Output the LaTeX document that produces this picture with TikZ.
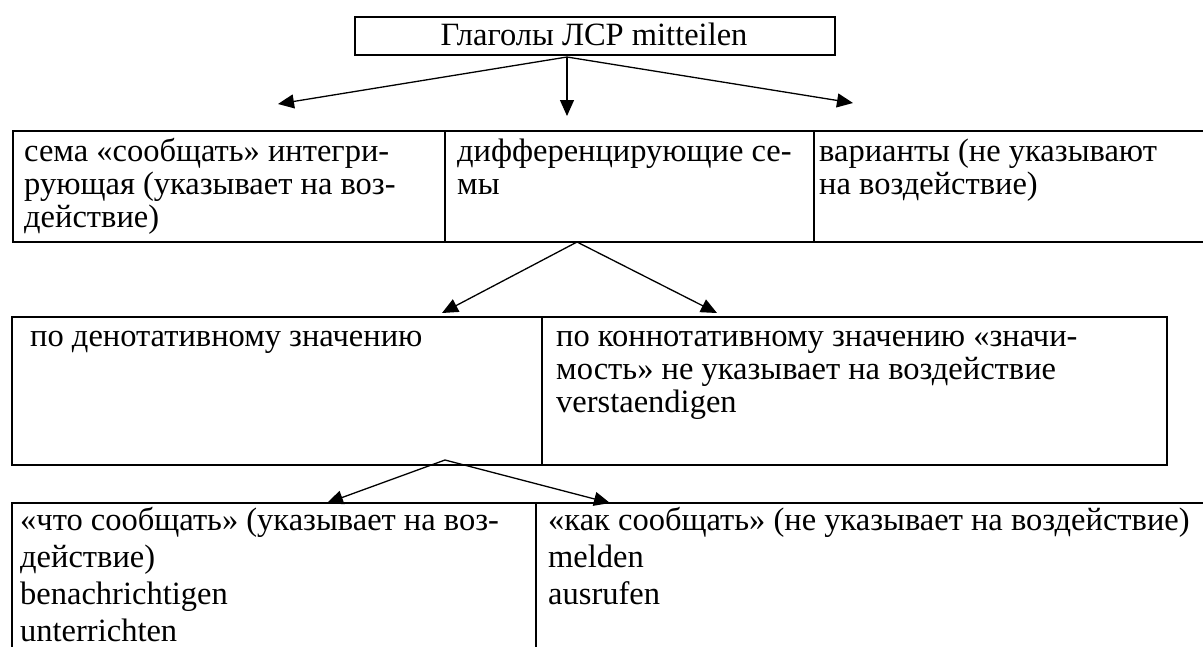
\documentclass[tikz,border=0pt]{standalone}
\usepackage{fontspec}
\setmainfont{Liberation Serif}
\usetikzlibrary{arrows.meta}
\newcommand\fs{\fontsize{32.5}{33}\selectfont}
\newcommand\fsw{\fontsize{32.5}{37}\selectfont}
\newcommand\ml[1]{\begin{tabular}[t]{@{}l@{}}#1\end{tabular}}
\begin{document}
\begin{tikzpicture}[x=1pt,y=-1pt,
  cell/.style={draw, line width=1.8pt, anchor=north west, inner sep=0pt, shape=rectangle},
  txt/.style={anchor=base west, inner sep=0pt, font=\fs},
  arr/.style={line width=1.3pt, -{Triangle[length=16pt,width=14pt]}}]
\clip (0,0) rectangle (1203,646);
\fill[white] (0,0) rectangle (1203,646);
% boxes
\node[cell, minimum width=480pt, minimum height=38pt] (top) at (354,16) {};
\node[cell, minimum width=432pt, minimum height=111pt] (r1a) at (12,130) {};
\node[cell, minimum width=369pt, minimum height=111pt] (r1b) at (444,130) {};
\node[cell, minimum width=400pt, minimum height=111pt] (r1c) at (813,130) {};
\node[cell, minimum width=530pt, minimum height=148pt] (r2a) at (11,316) {};
\node[cell, minimum width=625pt, minimum height=148pt] (r2b) at (541,316) {};
\node[cell, minimum width=524pt, minimum height=170pt] (r3a) at (11,502) {};
\node[cell, minimum width=690pt, minimum height=170pt] (r3b) at (535,502) {};
% texts
\node[anchor=base, inner sep=0pt, font=\fs] (ttop) at (594,45) {Глаголы ЛСР mitteilen};
\node[txt] (t1a) at (24,161) {\ml{сема «сообщать» интегри-\\рующая (указывает на воз-\\действие)}};
\node[txt] (t1b) at (457,161) {\ml{дифференцирующие се-\\мы}};
\node[txt] (t1c) at (819,161) {\ml{варианты (не указывают\\на воздействие)}};
\node[txt] (t2a) at (30,346) {по денотативному значению};
\node[txt] (t2b) at (556,346) {\ml{по коннотативному значению «значи-\\мость» не указывает на воздействие\\verstaendigen}};
\node[txt, font=\fsw] (t3a) at (20,530) {\ml{«что сообщать» (указывает на воз-\\действие)\\benachrichtigen\\unterrichten}};
\node[txt, font=\fsw] (t3b) at (548,530) {\ml{«как сообщать» (не указывает на воздействие)\\melden\\ausrufen}};
% connector points
\coordinate (o1) at (567,57);
\coordinate (e1a) at (278,104);
\coordinate (e1b) at (567,116);
\coordinate (e1c) at (853,103);
\coordinate (o2) at (577,242);
\coordinate (e2a) at (442,313);
\coordinate (e2b) at (717,313);
\coordinate (o3) at (445,460);
\coordinate (e3a) at (327,503);
\coordinate (e3b) at (610,503);
\draw[arr] (o1) -- (e1a);
\draw[arr] (o1) -- (e1b);
\draw[arr] (o1) -- (e1c);
\draw[arr] (o2) -- (e2a);
\draw[arr] (o2) -- (e2b);
\draw[arr] (o3) -- (e3a);
\draw[arr] (o3) -- (e3b);
\end{tikzpicture}
\end{document}
